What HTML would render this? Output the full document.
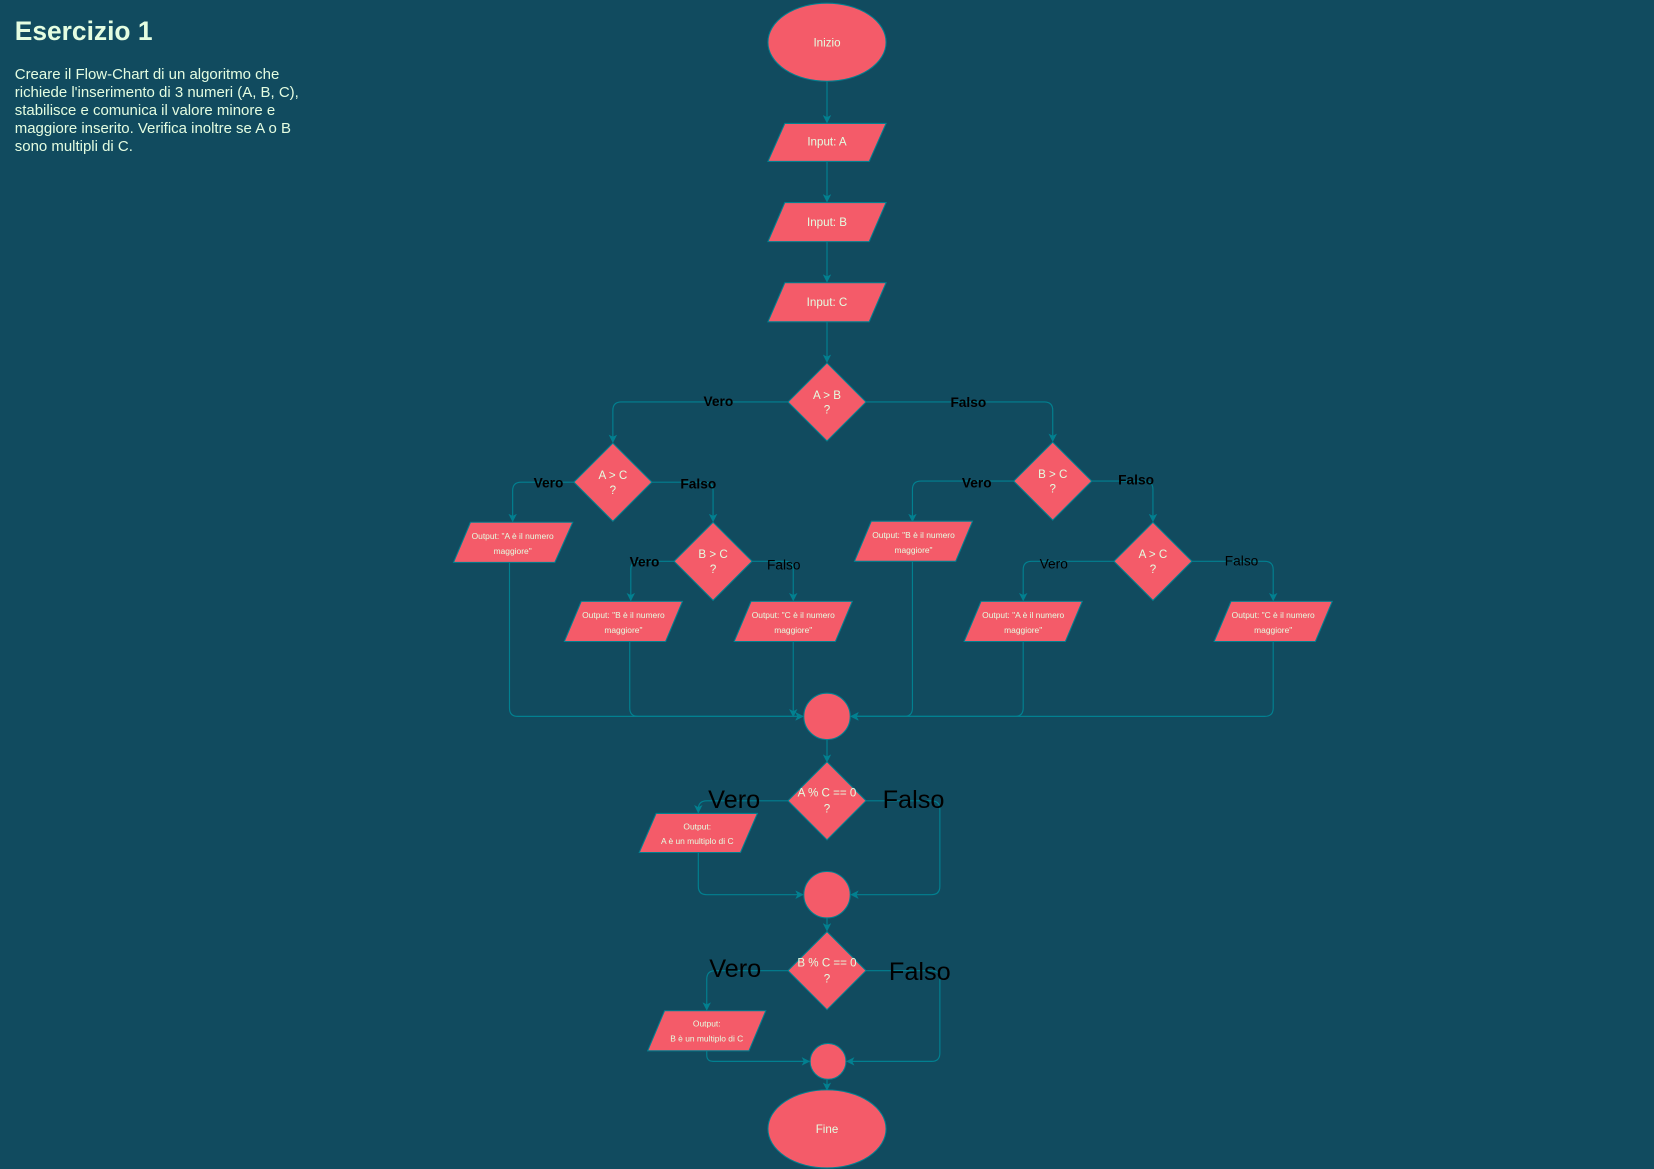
<!DOCTYPE html>
<html><head><meta charset="utf-8"><style>
html,body{margin:0;padding:0;background:#114b5f;width:1654px;height:1169px;overflow:hidden}
svg{display:block}
text{font-family:"Liberation Sans",sans-serif}
.n{fill:#f45b69;stroke:#028090;stroke-width:1}
.t{fill:#e4fde1;font-size:11px;text-anchor:middle}
.s{fill:#e4fde1;font-size:8px;text-anchor:middle}
.l{fill:none;stroke:#028090;stroke-width:1.1}
.lb{fill:#000;font-size:13px;text-anchor:middle}
.b{font-weight:bold}
.big{fill:#000;font-size:24px;text-anchor:middle}
</style></head><body>
<svg width="1654" height="1169" viewBox="0 0 1568 1108" preserveAspectRatio="none">
<defs><marker id="a" markerWidth="8" markerHeight="8" refX="7" refY="4" orient="auto" markerUnits="userSpaceOnUse"><path d="M0,0 L8,4 L0,8 L2,4 z" fill="#028090"/></marker></defs>
<rect width="1568" height="1108" fill="#114b5f"/>
<text x="14" y="38" font-size="25" font-weight="bold" fill="#e4fde1">Esercizio 1</text>
<g fill="#e4fde1" font-size="14.2">
<text x="14" y="75">Creare il Flow-Chart di un algoritmo che</text>
<text x="14" y="92">richiede l'inserimento di 3 numeri (A, B, C),</text>
<text x="14" y="109">stabilisce e comunica il valore minore e</text>
<text x="14" y="126">maggiore inserito. Verifica inoltre se A o B</text>
<text x="14" y="143">sono multipli di C.</text>
</g>
<g class="l" marker-end="url(#a)">
<path d="M784,77 V116"/><path d="M784,153 V191"/><path d="M784,229 V267"/><path d="M784,305 V343"/>
<path d="M747,381 H589 Q581,381 581,389 V419"/>
<path d="M821,381 H990 Q998,381 998,389 V418"/>
<path d="M544,457 H494 Q486,457 486,465 V494"/>
<path d="M618,457 H668 Q676,457 676,465 V494"/>
<path d="M639,532 H606 Q598,532 598,540 V569"/>
<path d="M713,532 H744 Q752,532 752,540 V569"/>
<path d="M961,456 H873 Q865,456 865,464 V494"/>
<path d="M1035,456 H1085 Q1093,456 1093,464 V494"/>
<path d="M1056,532 H978 Q970,532 970,540 V569"/>
<path d="M1130,532 H1199 Q1207,532 1207,540 V569"/>
<path d="M483,533 V671 Q483,679 491,679 H761"/>
<path d="M597,608 V671 Q597,679 605,679 H761"/>
<path d="M752,608 V679"/>
<path d="M865,532 V671 Q865,679 857,679 H807"/>
<path d="M970,608 V671 Q970,679 962,679 H807"/>
<path d="M1207,608 V671 Q1207,679 1199,679 H807"/>
<path d="M784,701 V722"/>
<path d="M747,759 H670 Q662,759 662,767 V770"/>
<path d="M821,759 H883 Q891,759 891,767 V840 Q891,848 883,848 H807"/>
<path d="M662,808 V840 Q662,848 670,848 H761"/>
<path d="M784,870 V882"/>
<path d="M747,920 H678 Q670,920 670,928 V957"/>
<path d="M821,920 H883 Q891,920 891,928 V998 Q891,1006 883,1006 H803"/>
<path d="M670,996 V1000 Q670,1006 676,1006 H767"/>
<path d="M784,1023 V1033"/>
</g>
<ellipse class="n" cx="784" cy="40" rx="56" ry="37"/><text class="t" x="784" y="44">Inizio</text>
<ellipse class="n" cx="784" cy="1070" rx="56" ry="37"/><text class="t" x="784" y="1074">Fine</text>
<g class="n">
<polygon points="744,117 840,117 824,153 728,153"/>
<polygon points="744,192 840,192 824,229 728,229"/>
<polygon points="744,268 840,268 824,305 728,305"/>
<polygon points="784,344 821,381 784,418 747,381"/>
<polygon points="581,420 618,457 581,494 544,457"/>
<polygon points="998,419 1035,456 998,493 961,456"/>
<polygon points="676,495 713,532 676,569 639,532"/>
<polygon points="1093,495 1130,532 1093,569 1056,532"/>
<polygon points="784,722 821,759 784,796 747,759"/>
<polygon points="784,883 821,920 784,957 747,920"/>
<polygon points="446,495 543,495 526,533 430,533"/>
<polygon points="551,570 647,570 631,608 535,608"/>
<polygon points="712,570 808,570 792,608 696,608"/>
<polygon points="826,494 922,494 906,532 810,532"/>
<polygon points="930,570 1026,570 1010,608 914,608"/>
<polygon points="1167,570 1263,570 1247,608 1151,608"/>
<polygon points="622,771 718,771 702,808 606,808"/>
<polygon points="630,958 726,958 710,996 614,996"/>
</g>
<circle class="n" cx="784" cy="679" r="22"/>
<circle class="n" cx="784" cy="848" r="22"/>
<circle class="n" cx="785" cy="1006" r="17"/>
<text class="t" x="784" y="138">Input: A</text>
<text class="t" x="784" y="214">Input: B</text>
<text class="t" x="784" y="290">Input: C</text>
<text class="t" x="784" y="378">A &gt; B</text><text class="t" x="784" y="392">?</text>
<text class="t" x="581" y="454">A &gt; C</text><text class="t" x="581" y="468">?</text>
<text class="t" x="998" y="453">B &gt; C</text><text class="t" x="998" y="467">?</text>
<text class="t" x="676" y="529">B &gt; C</text><text class="t" x="676" y="543">?</text>
<text class="t" x="1093" y="529">A &gt; C</text><text class="t" x="1093" y="543">?</text>
<text class="t" x="784" y="755">A % C == 0</text><text class="t" x="784" y="770">?</text>
<text class="t" x="784" y="916">B % C == 0</text><text class="t" x="784" y="931">?</text>
<text class="s" x="486" y="511">Output: "A è il numero</text><text class="s" x="486" y="525">maggiore"</text>
<text class="s" x="591" y="586">Output: "B è il numero</text><text class="s" x="591" y="600">maggiore"</text>
<text class="s" x="752" y="586">Output: "C è il numero</text><text class="s" x="752" y="600">maggiore"</text>
<text class="s" x="866" y="510">Output: "B è il numero</text><text class="s" x="866" y="524">maggiore"</text>
<text class="s" x="970" y="586">Output: "A è il numero</text><text class="s" x="970" y="600">maggiore"</text>
<text class="s" x="1207" y="586">Output: "C è il numero</text><text class="s" x="1207" y="600">maggiore"</text>
<text class="s" x="661" y="786" font-size="9">Output:</text><text class="s" x="661" y="800" font-size="9">A è un multiplo di C</text>
<text class="s" x="670" y="973" font-size="9">Output:</text><text class="s" x="670" y="987" font-size="9">B è un multiplo di C</text>
<g class="lb">
<text class="b" x="681" y="385">Vero</text><text class="b" x="918" y="386">Falso</text>
<text class="b" x="520" y="462">Vero</text><text class="b" x="662" y="463">Falso</text>
<text class="b" x="926" y="462">Vero</text><text class="b" x="1077" y="459">Falso</text>
<text class="b" x="611" y="537">Vero</text><text x="743" y="540">Falso</text>
<text x="999" y="539">Vero</text><text x="1177" y="536">Falso</text>
</g>
<text class="big" x="696" y="766">Vero</text><text class="big" x="866" y="766">Falso</text>
<text class="big" x="697" y="926">Vero</text><text class="big" x="872" y="929">Falso</text>
</svg>
</body></html>
